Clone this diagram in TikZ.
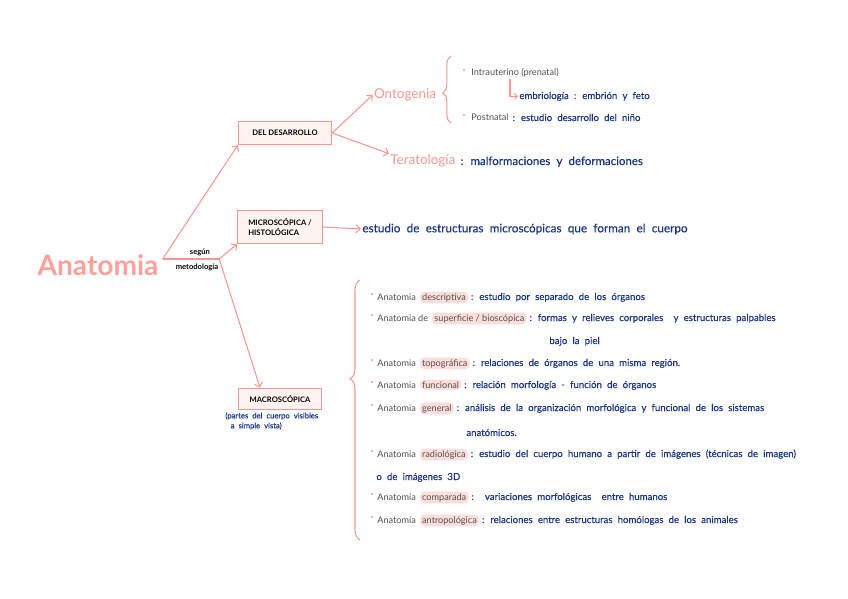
\documentclass[tikz,border=0pt]{standalone}
\usepackage{fontspec}
\setmainfont{Lato}
\newfontfamily\handfont[WordSpace=2.1, FakeBold=0.4]{Lato}
\usetikzlibrary{positioning,arrows.meta,decorations.pathreplacing}
\definecolor{notePink}{RGB}{248,150,144}
\definecolor{titlePink}{RGB}{255,160,154}
\definecolor{noteBlue}{RGB}{26,52,135}
\definecolor{noteGray}{RGB}{80,80,80}
\definecolor{markPink}{RGB}{253,222,219}
\definecolor{boxPinkBg}{RGB}{255,244,242}

\tikzset{
  stroke/.style={notePink, line width=0.9pt},
  branch/.style={stroke, -{Straight Barb[length=3.5pt,width=7pt]}},
  ctgbox/.style={draw=notePink, line width=0.9pt, fill=boxPinkBg, font=\bfseries\fontsize{6.5}{8}\selectfont, align=left, inner xsep=5pt},
  pinktxt/.style={notePink, font=\fontsize{11.5}{13}\selectfont, inner sep=1pt},
  graytxt/.style={noteGray, font=\fontsize{7.8}{9}\selectfont, inner sep=1pt},
  bluetxt/.style={noteBlue, font=\handfont\fontsize{8.2}{9.5}\selectfont, inner sep=1pt},
  hl/.style={graytxt, fill=markPink, rounded corners=4pt, inner xsep=2pt, inner ysep=1.5pt},
  bullet/.style={circle, fill=notePink, inner sep=0pt, minimum size=2pt},
  curly/.style={stroke, decorate, decoration={brace, amplitude=#1}},
}

\begin{document}
\begin{tikzpicture}[x=0.3mm, y=-0.3mm]
  \useasboundingbox (0,0) rectangle (848,599);

  % titulo y clasificacion
  \node[titlePink, font=\bfseries\fontsize{24}{26}\selectfont] (anat) at (98,265) {Anatomia};
  \coordinate (root) at ([yshift=1.8mm]anat.east);
  \coordinate (split) at ([xshift=17mm]root);
  \node[font=\bfseries\fontsize{6.5}{8}\selectfont, inner sep=1pt] (segun) at (200,252) {según};
  \node[font=\bfseries\fontsize{6.5}{8}\selectfont, inner sep=1pt] (metod) at (197,267) {metodología};

  \node[ctgbox, minimum width=28mm, minimum height=7mm] (desa) at (285,133) {DEL DESARROLLO};
  \node[ctgbox, minimum width=25.5mm, minimum height=10mm] (micro) at (280,227) {MICROSCÓPICA /\\HISTOLÓGICA};
  \node[ctgbox, minimum width=25mm, minimum height=6.5mm] (macro) at (280,399) {MACROSCÓPICA};
  \node[bluetxt, font=\handfont\fontsize{6.5}{8.5}\selectfont, align=left, anchor=north west] (macroNote) at (224,411)
    {(partes del cuerpo visibles\\\hspace{1.6mm}a simple vista)};

  \draw[stroke] (root) -- (split);
  \draw[branch] (root) -- (desa.south west);
  \draw[branch] (split) -- (micro.south west);
  \draw[branch] (split) -- ([xshift=-6mm]macro.north);

  % del desarrollo
  \node[pinktxt] (onto) at (405,95) {Ontogenia};
  \node[pinktxt, anchor=base west] (tera) at (389,165) {Teratología};
  \node[bluetxt, font=\handfont\fontsize{9.8}{11}\selectfont, base right=2pt of tera] (teraTxt) {: malformaciones y deformaciones};
  \draw[branch] (desa.east) -- (onto.west);
  \draw[branch] (desa.east) -- (tera.north west);
  \draw[curly=2.5mm, decoration={aspect=0.45}] (451,123) -- (451,56);

  \node[bullet] (b1) at (464,70) {};
  \node[graytxt, anchor=base west] (intra) at (470,76) {Intrauterino (prenatal)};
  \node[bluetxt, anchor=base west] (embr) at (518,99) {embriología : embrión y feto};
  \draw[stroke, -{Straight Barb[length=2.5pt,width=5pt]}] ([xshift=12mm]intra.south west) |- (embr.west);
  \node[bullet] (b2) at (464,115) {};
  \node[graytxt, anchor=base west] (post) at (470,121) {Postnatal};
  \node[bluetxt, base right=1pt of post] (postTxt) {: estudio desarrollo del niño};

  % microscopica
  \node[bluetxt, font=\handfont\fontsize{10}{12}\selectfont, anchor=west] (microTxt) at (361,229)
    {estudio de estructuras microscópicas que forman el cuerpo};
  \draw[branch] (micro.east) -- (microTxt.west);

  % macroscopica
  \draw[curly=3mm, decoration={aspect=0.62}] (360,540) -- (360,280);
  \foreach \n/\yy/\pre/\mk/\desc in {
    1/300/Anatomia/descriptiva/{: estudio por separado de los órganos},
    2/321/{Anatomia de}/{superficie / bioscópica}/{: formas y relieves corporales \ y estructuras palpables},
    3/366/Anatomia/topográfica/{: relaciones de órganos de una misma región.},
    4/388/Anatomia/funcional/{: relación morfología - función de órganos},
    5/411/Anatomia/general/{: análisis de la organización morfológica y funcional de los sistemas},
    6/457/Anatomia/radiológica/{: estudio del cuerpo humano a partir de imágenes (técnicas de imagen)},
    7/500/Anatomía/comparada/{: \ variaciones morfológicas \ entre humanos},
    8/523/Anatomía/antropológica/{: relaciones entre estructuras homólogas de los animales}}
  {
    \node[bullet] (d\n) at (372,\yy-6) {};
    \node[graytxt, anchor=base west] (a\n) at (376,\yy) {\pre};
    \node[hl, base right=2pt of a\n] (m\n) {\mk};
    \node[bluetxt, base right=1pt of m\n] (t\n) {\desc};
  }
  \node[bluetxt, anchor=base west] (t2b) at (548,344) {bajo la piel};
  \node[bluetxt, anchor=base west] (t5b) at (465,436) {anatómicos.};
  \node[bluetxt, anchor=base west] (t6b) at (375,480) {o de imágenes 3D};
\end{tikzpicture}
\end{document}
